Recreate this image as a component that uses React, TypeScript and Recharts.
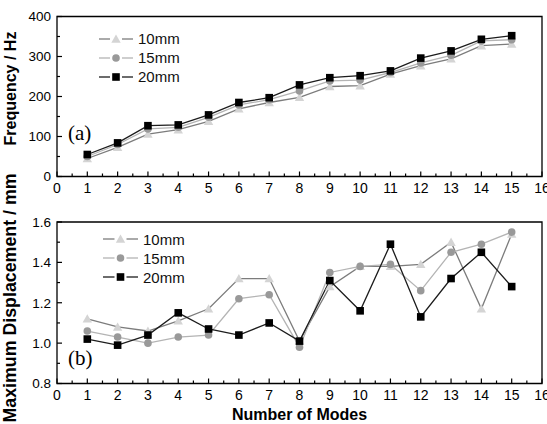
import React from 'react';
import { LineChart, Line, XAxis, YAxis, ReferenceArea, Legend } from 'recharts';

// Mode numbers on the x axis
const modes = [1, 2, 3, 4, 5, 6, 7, 8, 9, 10, 11, 12, 13, 14, 15];

// (a) natural frequency, Hz
const freq10mm = [45, 73, 106, 117, 138, 169, 185, 198, 225, 227, 256, 277, 294, 327, 331];
const freq15mm = [50, 80, 119, 123, 148, 179, 192, 214, 239, 241, 260, 284, 303, 339, 342];
const freq20mm = [55, 84, 127, 129, 154, 185, 197, 229, 247, 252, 264, 296, 314, 343, 352];

// (b) maximum displacement, mm
const disp10mm = [1.12, 1.08, 1.06, 1.11, 1.17, 1.32, 1.32, 1.01, 1.28, 1.38, 1.38, 1.39, 1.5, 1.17, 1.54];
const disp15mm = [1.06, 1.03, 1.0, 1.03, 1.04, 1.22, 1.24, 0.98, 1.35, 1.38, 1.39, 1.26, 1.45, 1.49, 1.55];
const disp20mm = [1.02, 0.99, 1.04, 1.15, 1.07, 1.04, 1.1, 1.01, 1.31, 1.16, 1.49, 1.13, 1.32, 1.45, 1.28];

// ticks (minor ones get no label)
const xTicks = [0, 0.5, 1, 1.5, 2, 2.5, 3, 3.5, 4, 4.5, 5, 5.5, 6, 6.5, 7, 7.5, 8, 8.5, 9, 9.5, 10, 10.5, 11, 11.5, 12, 12.5, 13, 13.5, 14, 14.5, 15, 15.5, 16];
const freqTicks = [0, 50, 100, 150, 200, 250, 300, 350, 400];
const dispTicks = [0.8, 0.9, 1.0, 1.1, 1.2, 1.3, 1.4, 1.5, 1.6];

const FONT = '"Liberation Sans", Arial, Helvetica, sans-serif';

const series = [
  { key: 's10', name: '10mm', line: '#7c7c7c', fill: '#d4d4d4', shape: 'triangle' },
  { key: 's15', name: '15mm', line: '#b4b4b4', fill: '#999999', shape: 'circle' },
  { key: 's20', name: '20mm', line: '#1c1c1c', fill: '#000000', shape: 'square' },
];

const freqData = modes.map((m, i) => ({ mode: m, s10: freq10mm[i], s15: freq15mm[i], s20: freq20mm[i] }));
const dispData = modes.map((m, i) => ({ mode: m, s10: disp10mm[i], s15: disp15mm[i], s20: disp20mm[i] }));

const Marker = ({ cx, cy, shape, fill }: any) => {
  if (shape === 'triangle') {
    return <polygon points={`${cx},${cy - 4.6} ${cx - 4.7},${cy + 3.7} ${cx + 4.7},${cy + 3.7}`} fill={fill} />;
  }
  if (shape === 'circle') return <circle cx={cx} cy={cy} r={3.8} fill={fill} />;
  return <rect x={cx - 3.8} y={cy - 3.8} width={7.6} height={7.6} fill={fill} />;
};

const dotFor = (shape: string, fill: string) => (props: any) => (
  <Marker key={props.index} cx={props.cx} cy={props.cy} shape={shape} fill={fill} />
);

// inward ticks, majors at integers
const XTick = ({ x, y, payload }: any) => {
  const v = payload.value;
  const major = Number.isInteger(v);
  return (
    <g>
      <line x1={x} x2={x} y1={y} y2={y - (major ? 5 : 3)} stroke="#000" strokeWidth={1.2} />
      {major && (
        <text x={x} y={y + 16} textAnchor="middle" fontSize={14} fontFamily={FONT} fill="#000">
          {v}
        </text>
      )}
    </g>
  );
};

const makeYTick = (isMajor: (v: number) => boolean, fmt: (v: number) => string) => ({ x, y, payload }: any) => {
  const v = payload.value;
  const major = isMajor(v);
  return (
    <g>
      <line x1={x} x2={x + (major ? 5 : 3)} y1={y} y2={y} stroke="#000" strokeWidth={1.2} />
      {major && (
        <text x={x - 6} y={y} dy="0.36em" textAnchor="end" fontSize={13.5} fontFamily={FONT} fill="#000">
          {fmt(v)}
        </text>
      )}
    </g>
  );
};

const FreqTick = makeYTick((v) => v % 100 === 0, (v) => String(v));
const DispTick = makeYTick((v) => Math.round(v * 10) % 2 === 0, (v) => v.toFixed(1));

const LegendBox = ({ lineW }: { lineW: number }) => (
  <div style={{ fontFamily: FONT, fontSize: 15, color: '#111' }}>
    {series.map((s) => (
      <div key={s.key} style={{ display: 'flex', alignItems: 'center', height: 19 }}>
        <svg width={lineW} height={12} style={{ overflow: 'visible' }}>
          <line x1={0} x2={lineW / 2 - 6} y1={6} y2={6} stroke={s.line} strokeWidth={1.3} />
          <line x1={lineW / 2 + 6} x2={lineW} y1={6} y2={6} stroke={s.line} strokeWidth={1.3} />
          <Marker cx={lineW / 2} cy={6} shape={s.shape} fill={s.fill} />
        </svg>
        <span style={{ marginLeft: 5 }}>{s.name}</span>
      </div>
    ))}
  </div>
);

const renderLines = () =>
  series.map((s) => (
    <Line
      key={s.key}
      type="linear"
      dataKey={s.key}
      name={s.name}
      stroke={s.line}
      strokeWidth={1.3}
      dot={dotFor(s.shape, s.fill)}
      activeDot={false}
      isAnimationActive={false}
    />
  ));

export default function App() {
  return (
    <div style={{ position: 'absolute', left: 0, top: 0, width: 547, height: 424, background: '#fff', overflow: 'hidden' }}>
      <div style={{ position: 'absolute', left: 0, top: 0 }}>
        <LineChart width={547} height={200} data={freqData} margin={{ top: 16.5, right: 5, left: 0, bottom: 0 }}>
          <XAxis
            dataKey="mode"
            type="number"
            domain={[0, 16]}
            ticks={xTicks}
            interval={0}
            height={23.5}
            axisLine={false}
            tickLine={false}
            tickSize={0}
            tickMargin={0}
            tick={<XTick />}
          />
          <YAxis
            type="number"
            domain={[0, 400]}
            ticks={freqTicks}
            interval={0}
            width={57}
            axisLine={false}
            tickLine={false}
            tickSize={0}
            tickMargin={0}
            tick={<FreqTick />}
          />
          <ReferenceArea x1={0} x2={16} y1={0} y2={400} fill="none" stroke="#000" strokeWidth={1.3} />
          {renderLines()}
          <Legend
            layout="vertical"
            align="center"
            verticalAlign="middle"
            wrapperStyle={{ left: 99, top: 29, width: 'auto' }}
            content={() => <LegendBox lineW={34} />}
          />
        </LineChart>
      </div>
      <div style={{ position: 'absolute', left: 0, top: 200 }}>
        <LineChart width={547} height={224} data={dispData} margin={{ top: 22, right: 5, left: 0, bottom: 0 }}>
          <XAxis
            dataKey="mode"
            type="number"
            domain={[0, 16]}
            ticks={xTicks}
            interval={0}
            height={40.5}
            axisLine={false}
            tickLine={false}
            tickSize={0}
            tickMargin={0}
            tick={<XTick />}
          />
          <YAxis
            type="number"
            domain={[0.8, 1.6]}
            ticks={dispTicks}
            interval={0}
            width={57}
            axisLine={false}
            tickLine={false}
            tickSize={0}
            tickMargin={0}
            tick={<DispTick />}
          />
          <ReferenceArea x1={0} x2={16} y1={0.8} y2={1.6} fill="none" stroke="#000" strokeWidth={1.3} />
          {renderLines()}
          <Legend
            layout="vertical"
            align="center"
            verticalAlign="middle"
            wrapperStyle={{ left: 103, top: 29.5, width: 'auto' }}
            content={() => <LegendBox lineW={35} />}
          />
        </LineChart>
      </div>
      <svg width={547} height={424} style={{ position: 'absolute', left: 0, top: 0, pointerEvents: 'none' }}>
        <text
          x={16}
          y={88.5}
          transform="rotate(-90, 16, 88.5)"
          textAnchor="middle"
          fontFamily={FONT}
          fontWeight="bold"
          fontSize={16}
          fill="#000"
        >
          Frequency / Hz
        </text>
        <text
          x={16}
          y={298}
          transform="rotate(-90, 16, 298)"
          textAnchor="middle"
          fontFamily={FONT}
          fontWeight="bold"
          fontSize={17.8}
          fill="#000"
        >
          Maximum Displacement / mm
        </text>
        <text x={299.5} y={420} textAnchor="middle" fontFamily={FONT} fontWeight="bold" fontSize={16} fill="#000">
          Number of Modes
        </text>
        <text x={68} y={140} fontFamily='"Liberation Serif", "Times New Roman", serif' fontSize={21} fill="#000">
          (a)
        </text>
        <text x={68} y={364.5} fontFamily='"Liberation Serif", "Times New Roman", serif' fontSize={21} fill="#000">
          (b)
        </text>
      </svg>
    </div>
  );
}
